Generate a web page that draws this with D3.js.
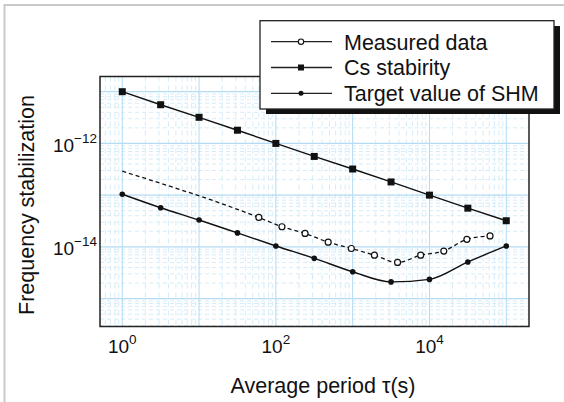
<!DOCTYPE html>
<html>
<meta charset="utf-8">
<style>
    body { margin: 0; background: #fff; }
    svg { display: block; }
    text { font-family: 'Liberation Sans', Arial, Helvetica, sans-serif; fill: #111; }
</style>
<body>
<svg width="564" height="402"></svg>
<script src="https://d3js.org/d3.v7.min.js"></script>
<script>
    // tau values (s) for Cs and SHM target, half-decade steps
    let tauCs = [1, 3.16, 10, 31.6, 100, 316, 1000, 3160, 1e4, 3.16e4, 1e5];
    let csStab = [1e-11, 5.6e-12, 3.2e-12, 1.8e-12, 1e-12, 5.6e-13, 3.2e-13, 1.8e-13, 1e-13, 5.6e-14, 3.2e-14];
    let shmTarget = [1.04e-13, 5.7e-14, 3.3e-14, 1.86e-14, 1.04e-14, 6.0e-15, 3.3e-15, 2.1e-15, 2.35e-15, 5.1e-15, 1.04e-14];

    // measured data, tau doubling from 60 s
    let tauMeas = [60, 120, 240, 480, 960, 1920, 3840, 7680, 15360, 30720, 61440];
    let measured = [3.7e-14, 2.45e-14, 1.82e-14, 1.23e-14, 9.3e-15, 6.9e-15, 5.0e-15, 6.9e-15, 8.3e-15, 1.4e-14, 1.63e-14];
    // extrapolated start of the measured curve (dotted)
    let tauExtra = [1];
    let measExtra = [2.9e-13];

    let xTicks = [1, 100, 1e4];
    let xTickExp = ["0", "2", "4"];
    let yTicks = [1e-12, 1e-14];
    let yTickExp = ["\u221212", "\u221214"];

    let legendNames = ["Measured data", "Cs stabirity", "Target value of SHM"];

    let plot = {left: 100, right: 529, top: 76.5, bottom: 326.5};

    let svg = d3.select("svg");

    // picture border (scan edge)
    svg.append("line").attr("x1", 4).attr("x2", 564).attr("y1", 5).attr("y2", 5)
       .style("stroke", "#c9c9c9").style("stroke-width", 2);
    svg.append("line").attr("x1", 4.5).attr("x2", 4.5).attr("y1", 4).attr("y2", 402)
       .style("stroke", "#c9c9c9").style("stroke-width", 2);

    let xScale = d3.scaleLog()
        .domain([Math.pow(10, -0.29), Math.pow(10, 5.296)])
        .range([plot.left, plot.right]);
    let yScale = d3.scaleLog()
        .domain([Math.pow(10, -15.54), Math.pow(10, -10.706)])
        .range([plot.bottom, plot.top]);

    let grid = svg.append("g");

    // graph paper: minor dashed lines
    let minorX = [], minorY = [];
    for (let e = -1; e <= 5; e++) for (let m = 2; m <= 9; m++) {
        let v = m * Math.pow(10, e);
        if (v > xScale.domain()[0] && v < xScale.domain()[1]) minorX.push(v);
    }
    for (let e = -16; e <= -11; e++) for (let m = 2; m <= 9; m++) {
        let v = m * Math.pow(10, e);
        if (v > yScale.domain()[0] && v < yScale.domain()[1]) minorY.push(v);
    }
    grid.selectAll(".minx").data(minorX).join("line")
        .attr("x1", d => xScale(d)).attr("x2", d => xScale(d))
        .attr("y1", plot.top).attr("y2", plot.bottom)
        .style("stroke", "#d6ecf8").style("stroke-width", 1).style("stroke-dasharray", "5,4");
    grid.selectAll(".miny").data(minorY).join("line")
        .attr("x1", plot.left).attr("x2", plot.right)
        .attr("y1", d => yScale(d)).attr("y2", d => yScale(d))
        .style("stroke", "#d6ecf8").style("stroke-width", 1).style("stroke-dasharray", "4,3");

    // major decade lines
    let majorX = [1, 10, 100, 1000, 1e4, 1e5];
    let majorY = [1e-11, 1e-12, 1e-13, 1e-14, 1e-15];
    grid.selectAll(".majx").data(majorX).join("line")
        .attr("x1", d => xScale(d)).attr("x2", d => xScale(d))
        .attr("y1", plot.top).attr("y2", plot.bottom)
        .style("stroke", "#b3dbf2").style("stroke-width", 1);
    grid.selectAll(".majy").data(majorY).join("line")
        .attr("x1", plot.left).attr("x2", plot.right)
        .attr("y1", d => yScale(d)).attr("y2", d => yScale(d))
        .style("stroke", "#b3dbf2").style("stroke-width", 1.3);

    // frame
    svg.append("rect")
        .attr("x", plot.left).attr("y", plot.top)
        .attr("width", plot.right - plot.left).attr("height", plot.bottom - plot.top)
        .style("fill", "none").style("stroke", "#222").style("stroke-width", 1.5);

    // tick labels
    let xl = svg.append("g").selectAll("text").data(xTicks).join("text")
        .attr("x", d => xScale(d)).attr("y", 353)
        .attr("text-anchor", "middle");
    xl.append("tspan").style("font-size", "19px").text("10");
    xl.append("tspan").style("font-size", "13.5px").attr("dy", -9).text((d, i) => xTickExp[i]);

    let yl = svg.append("g").selectAll("text").data(yTicks).join("text")
        .attr("x", 97).attr("y", d => yScale(d) + 8.5)
        .attr("text-anchor", "end");
    yl.append("tspan").style("font-size", "19px").text("10");
    yl.append("tspan").style("font-size", "13.5px").attr("dy", -9).text((d, i) => yTickExp[i]);

    // axis titles
    svg.append("text").attr("x", 323).attr("y", 393)
        .attr("text-anchor", "middle").style("font-size", "21.5px")
        .text("Average period \u03c4(s)");
    svg.append("text")
        .attr("transform", "translate(34,205) rotate(-90)")
        .attr("text-anchor", "middle").style("font-size", "21.5px")
        .text("Frequency stabilization");

    let lineGen = d3.line()
        .x(d => xScale(d[0]))
        .y(d => yScale(d[1]));

    let csData = tauCs.map((t, i) => [t, csStab[i]]);
    let shmData = tauCs.map((t, i) => [t, shmTarget[i]]);
    let measData = tauMeas.map((t, i) => [t, measured[i]]);
    let measLine = tauExtra.map((t, i) => [t, measExtra[i]]).concat(measData);

    let marks = svg.append("g");

    marks.append("path").attr("d", lineGen.curve(d3.curveLinear)(csData))
        .style("fill", "none").style("stroke", "#111").style("stroke-width", 1.4);
    marks.append("path").attr("d", lineGen.curve(d3.curveMonotoneX)(shmData))
        .style("fill", "none").style("stroke", "#111").style("stroke-width", 1.4);
    marks.append("path").attr("d", lineGen.curve(d3.curveMonotoneX)(measLine))
        .style("fill", "none").style("stroke", "#111").style("stroke-width", 1.3)
        .style("stroke-dasharray", "4,3");

    marks.selectAll(".cs").data(csData).join("rect")
        .attr("x", d => xScale(d[0]) - 3.5).attr("y", d => yScale(d[1]) - 3.5)
        .attr("width", 7).attr("height", 7).style("fill", "#111");
    marks.selectAll(".shm").data(shmData).join("circle")
        .attr("cx", d => xScale(d[0])).attr("cy", d => yScale(d[1])).attr("r", 2.8)
        .style("fill", "#111");
    marks.selectAll(".meas").data(measData).join("circle")
        .attr("cx", d => xScale(d[0])).attr("cy", d => yScale(d[1])).attr("r", 3)
        .style("fill", "#fff").style("stroke", "#111").style("stroke-width", 1.2);

    // legend
    let legend = svg.append("g");
    legend.append("rect").attr("x", 266).attr("y", 26).attr("width", 294).attr("height", 88)
        .style("fill", "#111");
    legend.append("rect").attr("x", 260).attr("y", 20.7).attr("width", 294).attr("height", 88.3)
        .style("fill", "#fff").style("stroke", "#222").style("stroke-width", 1.3);

    let rowY = d3.scalePoint().domain(legendNames).range([41.7, 93.3]);
    let rows = legend.selectAll(".row").data(legendNames).join("g")
        .attr("transform", d => "translate(0," + rowY(d) + ")");
    rows.append("line").attr("x1", 271).attr("x2", 332).attr("y1", 0).attr("y2", 0)
        .style("stroke", "#222").style("stroke-width", 1.3);
    rows.append("text").attr("x", 344).attr("y", 7.8).style("font-size", "21.5px")
        .text(d => d);
    rows.filter((d, i) => i === 0).append("circle").attr("cx", 301).attr("cy", 0).attr("r", 2.7)
        .style("fill", "#fff").style("stroke", "#111").style("stroke-width", 1.1);
    rows.filter((d, i) => i === 1).append("rect").attr("x", 298).attr("y", -3).attr("width", 6).attr("height", 6)
        .style("fill", "#111");
    rows.filter((d, i) => i === 2).append("circle").attr("cx", 301).attr("cy", 0).attr("r", 2.5)
        .style("fill", "#111");
</script>
</body>
</html>
